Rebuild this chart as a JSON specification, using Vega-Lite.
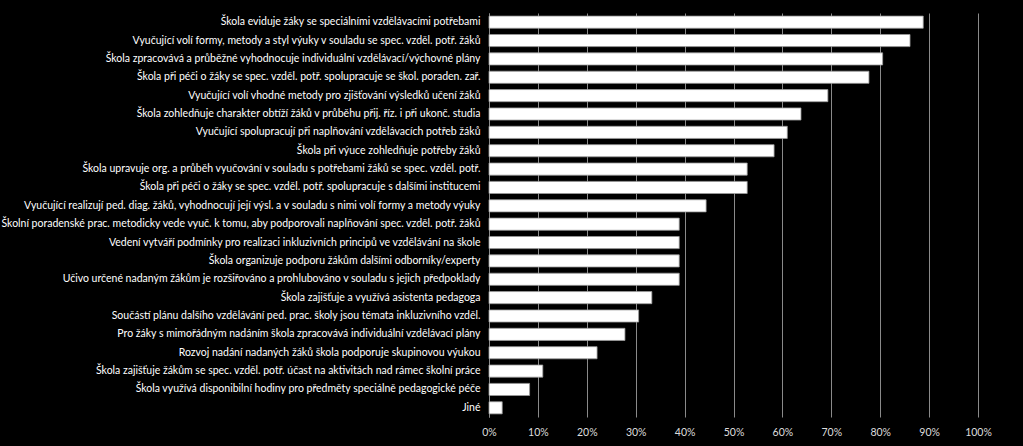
{
  "$schema": "https://vega.github.io/schema/vega-lite/v6.json",
  "width": 489,
  "height": 404,
  "autosize": {"type": "none"},
  "padding": {"left": 489, "top": 13, "right": 45, "bottom": 29},
  "background": "black",
  "config": {"view": {"stroke": null}},
  "data": {
    "values": [
      {"label": "Škola eviduje žáky se speciálními vzdělávacími potřebami", "value": 0.888},
      {"label": "Vyučující volí formy, metody a styl výuky v souladu se spec. vzděl. potř. žáků", "value": 0.861},
      {"label": "Škola zpracovává a průběžné vyhodnocuje individuální vzdělávací/výchovné plány ", "value": 0.805},
      {"label": "Škola při péči o žáky se spec. vzděl. potř. spolupracuje se škol. poraden. zař.", "value": 0.777},
      {"label": "Vyučující volí vhodné metody pro zjišťování výsledků učení žáků", "value": 0.693},
      {"label": "Škola zohledňuje charakter obtíží žáků v průběhu přij. říz. i při ukonč. studia", "value": 0.638},
      {"label": "Vyučující spolupracují při naplňování vzdělávacích potřeb žáků ", "value": 0.61},
      {"label": "Škola při výuce zohledňuje potřeby žáků", "value": 0.583},
      {"label": "Škola upravuje org. a průběh vyučování v souladu s potřebami žáků se spec. vzděl. potř.", "value": 0.528},
      {"label": "Škola při péči o žáky se spec. vzděl. potř. spolupracuje s dalšími institucemi", "value": 0.528},
      {"label": "Vyučující realizují ped. diag. žáků, vyhodnocují její výsl. a v souladu s nimi volí formy a metody výuky", "value": 0.444},
      {"label": "Školní poradenské prac. metodicky vede vyuč. k tomu, aby podporovali naplňování spec. vzděl. potř. žáků", "value": 0.389},
      {"label": "Vedení vytváří podmínky pro realizaci inkluzivních principů ve vzdělávání na škole", "value": 0.389},
      {"label": "Škola organizuje podporu žákům dalšími odborníky/experty", "value": 0.389},
      {"label": "Učivo určené nadaným žákům je rozšiřováno a prohlubováno v souladu s jejich předpoklady", "value": 0.389},
      {"label": "Škola zajišťuje a využívá asistenta pedagoga", "value": 0.333},
      {"label": "Součástí plánu dalšího vzdělávání ped. prac. školy jsou témata inkluzivního vzděl.", "value": 0.306},
      {"label": "Pro žáky s mimořádným nadáním škola zpracovává individuální vzdělávací plány", "value": 0.278},
      {"label": "Rozvoj nadání nadaných žáků škola podporuje skupinovou výukou", "value": 0.221},
      {"label": "Škola zajišťuje žákům se spec. vzděl. potř. účast na aktivitách nad rámec školní práce", "value": 0.11},
      {"label": "Škola využívá disponibilní hodiny pro předměty speciálně pedagogické péče", "value": 0.083},
      {"label": "Jiné", "value": 0.027}
    ]
  },
  "mark": {"type": "bar", "color": "white", "stroke": "#9a9a9a", "strokeWidth": 0.8},
  "encoding": {
    "y": {
      "field": "label",
      "type": "nominal",
      "sort": null,
      "scale": {"paddingInner": 0.34, "paddingOuter": 0.17},
      "axis": {
        "title": null,
        "labelColor": "white",
        "labelFont": "Lato",
        "labelFontSize": 10.5,
        "labelLimit": 500,
        "labelPadding": 9,
        "ticks": false,
        "domainColor": "#8a8a8a",
        "grid": false
      }
    },
    "x": {
      "field": "value",
      "type": "quantitative",
      "scale": {"domain": [0, 1], "nice": false},
      "axis": {
        "title": null,
        "format": "%",
        "values": [0, 0.1, 0.2, 0.3, 0.4, 0.5, 0.6, 0.7, 0.8, 0.9, 1],
        "labelColor": "#dddddd",
        "labelFont": "Lato",
        "labelFontSize": 10.5,
        "labelPadding": 10,
        "labelFlush": false,
        "ticks": false,
        "domain": false,
        "grid": true,
        "gridColor": "#8a8a8a",
        "gridWidth": 1
      }
    }
  }
}
